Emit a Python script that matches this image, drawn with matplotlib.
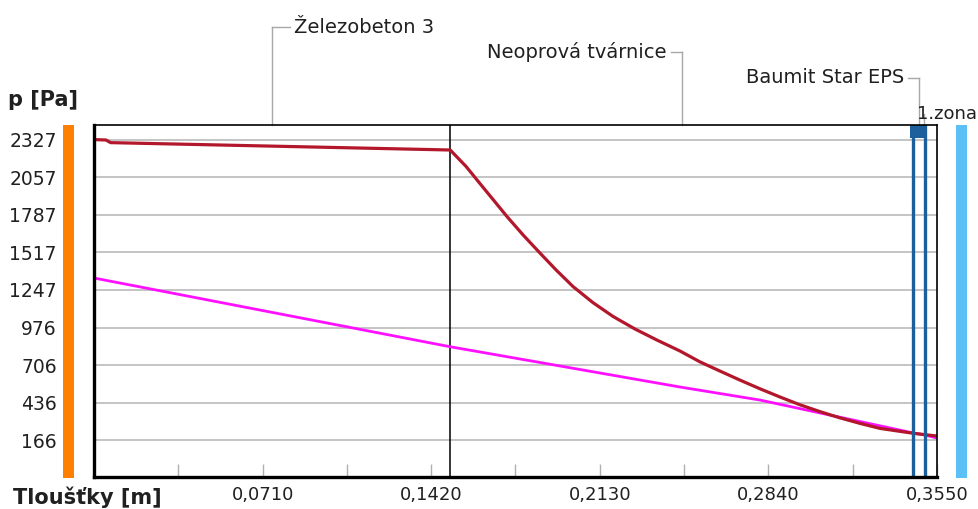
import matplotlib
matplotlib.use("Agg")
import matplotlib.pyplot as plt
from matplotlib.patches import Rectangle
import matplotlib.transforms as mtransforms

plt.rcParams['font.family'] = ['DejaVu Sans']

# ---- data ----
x_ticks = [0.0, 0.071, 0.142, 0.213, 0.284, 0.355]
x_ticklabels = ["", "0,0710", "0,1420", "0,2130", "0,2840", "0,3550"]
x_minor = [0.0355, 0.1065, 0.1775, 0.2485, 0.3195]
y_ticks = [166, 436, 706, 976, 1247, 1517, 1787, 2057, 2327]
y_ticklabels = ["166", "436", "706", "976", "1247", "1517", "1787", "2057", "2327"]

# partial water vapour pressure (red)
p_x = [0.0, 0.005, 0.007, 0.15, 0.1567, 0.1625, 0.1684, 0.1739, 0.1807, 0.1878,
       0.1946, 0.2017, 0.2101, 0.2186, 0.2278, 0.2371, 0.2468, 0.2552, 0.2636,
       0.2720, 0.2805, 0.2889, 0.2973, 0.3057, 0.3141, 0.3226, 0.3310, 0.3453,
       0.355]
p_y = [2330, 2327, 2308, 2255, 2136, 2014, 1891, 1776, 1643, 1513,
       1391, 1272, 1156, 1056, 966, 886, 807, 729, 663,
       598, 535, 476, 420, 371, 326, 286, 250, 214,
       195]

# saturation pressure (magenta)
m_x = [0.0, 0.15, 0.2468, 0.2805, 0.3453, 0.3495, 0.355]
m_y = [1333, 838, 548, 454, 216, 205, 180]

layer_bounds = [0.15]
eps_bounds = [0.345, 0.350]
labels = ["Železobeton 3", "Neoprová tvárnice", "Baumit Star EPS"]
label_x = [0.075, 0.2475, 0.3475]

xlim = (0.0, 0.355)
ylim = (-100, 2435)

# ---- figure ----
W, H = 979, 509
PT = 72.0 / 100.0  # points per pixel
fig = plt.figure(figsize=(W / 100, H / 100), dpi=100)
fig.patch.set_facecolor("white")
ax = fig.add_axes([94 / W, (H - 477) / H, 843 / W, 352 / H])
ax.set_xlim(*xlim)
ax.set_ylim(*ylim)

for y in y_ticks:
    ax.axhline(y, color="#c4c4c4", lw=1.4, zorder=1)

for xb in layer_bounds:
    ax.axvline(xb, color="black", lw=1.1, zorder=2)

ax.plot(m_x, m_y, color="#ff10ff", lw=2.0, zorder=3, solid_capstyle="butt")
ax.plot(p_x, p_y, color="#b3172b", lw=2.3, zorder=4, solid_capstyle="butt",
        solid_joinstyle="round")

for xb in eps_bounds:
    ax.axvline(xb, color="#1c5f9c", lw=2.4, zorder=5)
ax.add_patch(Rectangle((0.3436, 2340), 0.0072, ylim[1] - 2340,
                       facecolor="#1c5f9c", edgecolor="none", zorder=5))

# spines
for s in ["left", "bottom"]:
    ax.spines[s].set_linewidth(2.4)
for s in ["top", "right"]:
    ax.spines[s].set_linewidth(1.2)
for s in ax.spines.values():
    s.set_zorder(6)

ax.set_xticks(x_ticks)
ax.set_xticklabels(x_ticklabels)
ax.set_xticks(x_minor, minor=True)
ax.tick_params(axis="x", which="both", direction="in", length=13 * PT, width=1.0,
               color="#b0b0b0", labelsize=13, pad=9 * PT, labelcolor="#202020")
ax.set_yticks(y_ticks)
ax.set_yticklabels(y_ticklabels)
ax.tick_params(axis="y", length=0, labelsize=13.5, pad=37 * PT, labelcolor="#202020")

# layer labels with leader lines
tr = mtransforms.blended_transform_factory(ax.transData, ax.transAxes)
px2x = (xlim[1] - xlim[0]) / 843.0
lab_y = [1.278, 1.207, 1.134]
lc = "#a8a8a8"
x0 = label_x[0]
ax.plot([x0, x0], [1.0, lab_y[0]], color=lc, lw=1.0, transform=tr, clip_on=False)
ax.plot([x0, x0 + 18 * px2x], [lab_y[0], lab_y[0]], color=lc, lw=1.0, transform=tr, clip_on=False)
ax.text(x0 + 22 * px2x, lab_y[0], labels[0], transform=tr, ha="left", va="center",
        fontsize=14, color="#202020")
for i in (1, 2):
    xi = label_x[i]
    ax.plot([xi, xi], [1.0, lab_y[i]], color=lc, lw=1.0, transform=tr, clip_on=False)
    ax.plot([xi - 11 * px2x, xi], [lab_y[i], lab_y[i]], color=lc, lw=1.0, transform=tr, clip_on=False)
    ax.text(xi - 15 * px2x, lab_y[i], labels[i], transform=tr, ha="right", va="center",
            fontsize=14, color="#202020")

# 1.zona
ax.plot([0.3495, 0.3495], [1.0, 1.03], color=lc, lw=1.0, transform=tr, clip_on=False)
ax.text(0.3433 + 8 * px2x, 1.03, "1.zona", transform=tr, ha="left", va="center",
        fontsize=13, color="#202020")

# side bars
fig.patches.append(Rectangle((63 / W, (H - 478) / H), 11 / W, 353 / H,
                             transform=fig.transFigure, facecolor="#ff8000",
                             edgecolor="none"))
fig.patches.append(Rectangle((956 / W, (H - 478) / H), 11 / W, 353 / H,
                             transform=fig.transFigure, facecolor="#5bc0f5",
                             edgecolor="none"))

# axis titles
fig.text(8 / W, 1 - 100 / H, "p [Pa]", fontsize=15, fontweight="bold",
         ha="left", va="center", color="#202020")
fig.text(13 / W, 1 - 497 / H, "Tloušťky [m]", fontsize=15, fontweight="bold",
         ha="left", va="center", color="#202020")

fig.savefig("out.png", dpi=100, facecolor="white")
